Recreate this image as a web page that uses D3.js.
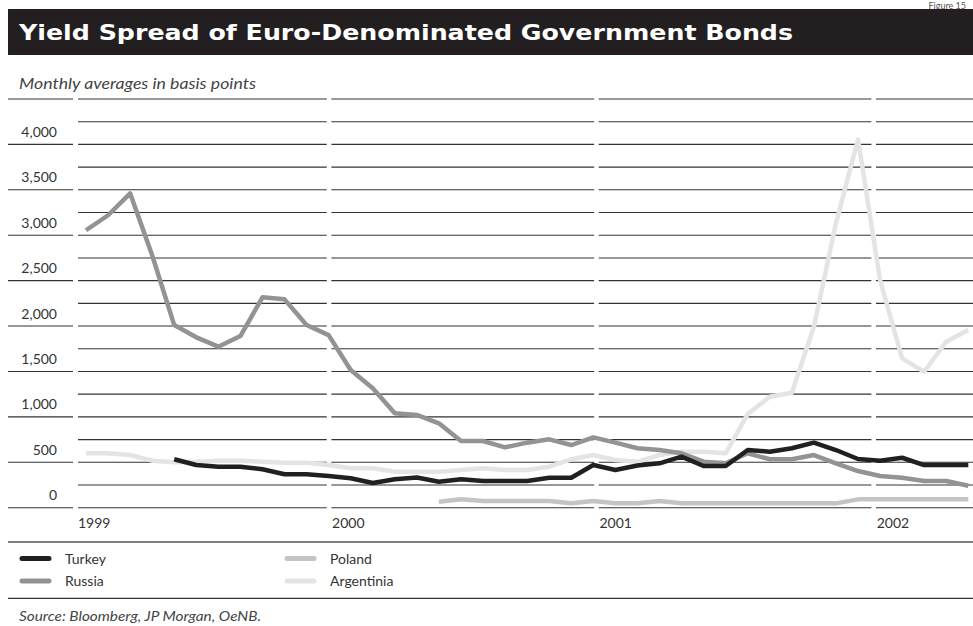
<!DOCTYPE html>
<html>
<head>
<meta charset="utf-8">
<script src="https://cdn.jsdelivr.net/npm/d3@7"></script>
<style>
  html, body { margin: 0; padding: 0; background: #fff; }
  svg { display: block; }
</style>
</head>
<body>
<svg id="chart" width="973" height="626"></svg>
<script>
// ---- data (monthly averages, basis points) ----
const months = [
  "1999-01","1999-02","1999-03","1999-04","1999-05","1999-06","1999-07","1999-08","1999-09","1999-10","1999-11","1999-12",
  "2000-01","2000-02","2000-03","2000-04","2000-05","2000-06","2000-07","2000-08","2000-09","2000-10","2000-11","2000-12",
  "2001-01","2001-02","2001-03","2001-04","2001-05","2001-06","2001-07","2001-08","2001-09","2001-10","2001-11","2001-12",
  "2002-01","2002-02","2002-03","2002-04","2002-05"
];
const turkey = [null,null,null,null,533,470,451,451,423,368,368,349,
  324,272,313,332,286,313,294,294,294,330,330,470,
  415,465,489,562,459,459,635,617,654,716,635,536,
  517,550,470,470,470];
const russia = [3055,3220,3461,2780,2011,1876,1773,1890,2316,2294,2011,1900,
  1516,1315,1039,1021,929,734,734,665,716,753,690,775,
  716,654,635,599,507,489,599,533,533,580,489,404,
  349,330,294,294,242];
const poland = [null,null,null,null,null,null,null,null,null,null,null,null,
  null,null,null,null,66,92,74,74,74,74,48,74,
  48,48,74,48,48,48,48,48,48,48,48,92,
  92,92,92,92,92];
const argentina = [599,599,580,518,500,506,518,518,506,496,496,470,
  434,434,396,396,396,415,434,415,415,451,533,580,
  525,505,580,617,617,599,1032,1222,1266,1993,3131,4056,
  2507,1645,1497,1828,1957];

const seriesNames = ["Turkey", "Russia", "Poland", "Argentinia"];
const seriesColors = ["#231f20", "#939393", "#c4c4c4", "#e4e4e4"];
const yearLabels = ["1999", "2000", "2001", "2002"];
const yearBreakIdx = [11.02, 23.14, 35.71]; // separators between years (month index units)
const yTickValues = [0, 500, 1000, 1500, 2000, 2500, 3000, 3500, 4000];

// ---- layout ----
const svg = d3.select("#chart");
const W = 973;
const gridLeft = 78, segLeft = 8, segRight = 73;

const x = d3.scaleLinear().domain([0, months.length - 1]).range([86, 968.3]);
const y = d3.scaleLinear().domain([0, 4500]).range([507.7, 99]);

const FONT = "Lato, 'Open Sans', 'DejaVu Sans', sans-serif";

// Figure number (top right, above the title bar)
svg.append("text").attr("x", 966).attr("y", 8.5).attr("text-anchor", "end")
  .attr("font-family", FONT).attr("font-size", 9).attr("fill", "#555")
  .text("Figure 15");

// Title bar
svg.append("rect").attr("x", 8).attr("y", 9).attr("width", W - 8).attr("height", 46)
  .attr("fill", "#231f20");
svg.append("text").attr("x", 19).attr("y", 40)
  .attr("font-family", "'DejaVu Sans', sans-serif").attr("font-weight", "bold")
  .attr("font-size", 21).attr("fill", "#fff")
  .attr("textLength", 774).attr("lengthAdjust", "spacingAndGlyphs")
  .text("Yield Spread of Euro-Denominated Government Bonds");

// Subtitle
svg.append("text").attr("x", 19).attr("y", 89)
  .attr("font-family", FONT).attr("font-style", "italic")
  .attr("font-size", 14.5).attr("fill", "#444")
  .attr("textLength", 237).attr("lengthAdjust", "spacingAndGlyphs")
  .text("Monthly averages in basis points");

// ---- grid ----
const gridVals = d3.range(0, 4501, 250);
const segStarts = [gridLeft].concat(yearBreakIdx.map(b => x(b) + 2.3));
const segEnds = yearBreakIdx.map(b => x(b) - 2.3).concat([W]);
const grid = svg.append("g");
gridVals.forEach(v => {
  segStarts.forEach((s, k) => {
    grid.append("line").attr("x1", s).attr("x2", segEnds[k])
      .attr("y1", y(v)).attr("y2", y(v))
      .attr("stroke", "#333").attr("stroke-width", 1.1);
  });
  if (v % 500 === 0) {
    grid.append("line").attr("x1", segLeft).attr("x2", segRight)
      .attr("y1", y(v)).attr("y2", y(v))
      .attr("stroke", "#333").attr("stroke-width", 1.1);
  }
});

// y labels
const fmt = d3.format(",");
svg.append("g").selectAll("text").data(yTickValues).join("text")
  .attr("x", 57).attr("y", d => y(d) - 7.5)
  .attr("text-anchor", "end")
  .attr("font-family", FONT).attr("font-size", 14).attr("fill", "#333")
  .text(d => fmt(d));

// year labels
const yearX = [gridLeft].concat(yearBreakIdx.map(b => x(b) + 3));
svg.append("g").selectAll("text").data(yearLabels).join("text")
  .attr("x", (d, i) => yearX[i]).attr("y", 528)
  .attr("font-family", FONT).attr("font-size", 14).attr("fill", "#333")
  .text(d => d);

// ---- lines ----
const allSeries = [turkey, russia, poland, argentina];
const line = d3.line()
  .defined(d => d != null)
  .x((d, i) => x(i))
  .y(d => y(d));
const drawOrder = [3, 2, 1, 0];
drawOrder.forEach(k => {
  svg.append("path")
    .attr("d", line(allSeries[k]))
    .attr("fill", "none")
    .attr("stroke", seriesColors[k])
    .attr("stroke-width", 4.5)
    .attr("stroke-linejoin", "round")
    .attr("stroke-linecap", "butt");
});

// ---- legend ----
svg.append("line").attr("x1", 8).attr("x2", W).attr("y1", 542).attr("y2", 542)
  .attr("stroke", "#555").attr("stroke-width", 1.5);
svg.append("line").attr("x1", 8).attr("x2", W).attr("y1", 598.3).attr("y2", 598.3)
  .attr("stroke", "#333").attr("stroke-width", 1.3);

const legendPos = [[20, 558.5], [20, 581], [285, 558.5], [285, 581]];
seriesNames.forEach((name, k) => {
  const [lx, ly] = legendPos[k];
  svg.append("line").attr("x1", lx + 2).attr("x2", lx + 29).attr("y1", ly).attr("y2", ly)
    .attr("stroke", seriesColors[k]).attr("stroke-width", 5).attr("stroke-linecap", "round");
  svg.append("text").attr("x", lx + 45).attr("y", ly + 5)
    .attr("font-family", FONT).attr("font-size", 14).attr("fill", "#333")
    .text(name);
});

// Source
svg.append("text").attr("x", 19).attr("y", 621)
  .attr("font-family", FONT).attr("font-style", "italic")
  .attr("font-size", 13.5).attr("fill", "#444")
  .attr("textLength", 242).attr("lengthAdjust", "spacingAndGlyphs")
  .text("Source: Bloomberg, JP Morgan, OeNB.");
</script>
</body>
</html>
